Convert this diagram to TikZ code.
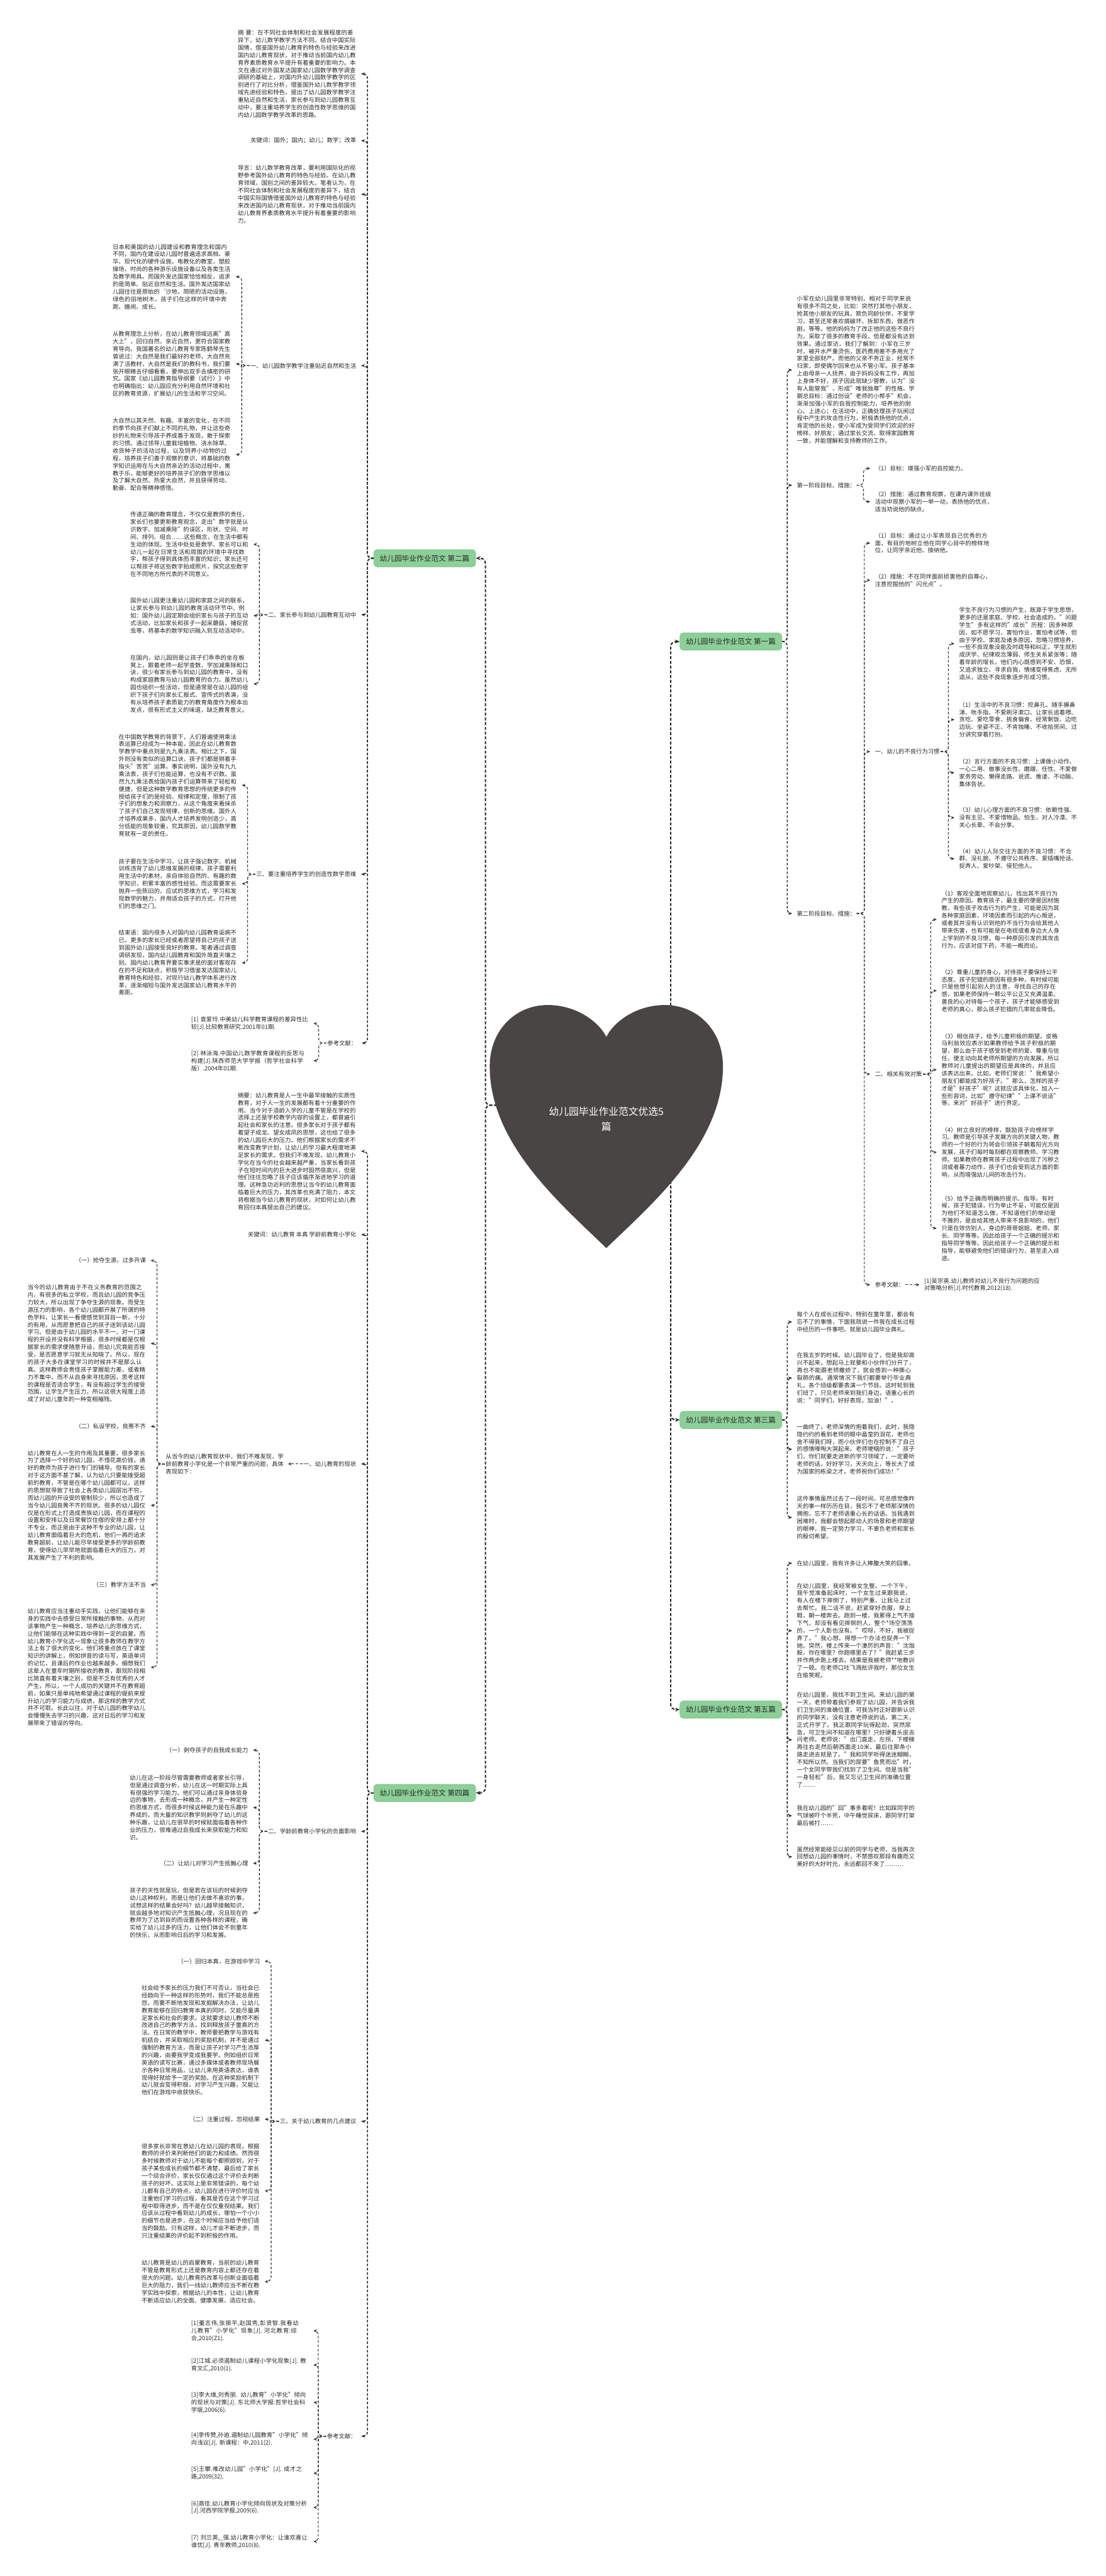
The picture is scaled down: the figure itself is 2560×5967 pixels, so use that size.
\documentclass[tikz,border=0pt]{standalone}
\usepackage{fontspec}
\setmainfont{Noto Sans CJK SC}
\usetikzlibrary{arrows.meta}
\XeTeXlinebreaklocale "zh"
\XeTeXlinebreakskip = 0pt plus 1pt
\definecolor{leafgreen}{RGB}{140,208,152}
\definecolor{leafline}{RGB}{118,188,132}
\definecolor{heartgray}{RGB}{74,69,69}
\definecolor{linkgray}{RGB}{45,45,45}
\definecolor{inkgray}{RGB}{40,40,40}

\begin{document}
\begin{tikzpicture}[x=1pt, y=-1pt]
      \tikzset{
	  stage/.style={rectangle, rounded corners=8pt, draw=leafline, fill=leafgreen, line width=1pt, inner xsep=14pt, minimum height=40pt, font=\fontsize{17}{20}\selectfont, text=inkgray},
	  txt/.style={text width=274pt, align=left, inner sep=2pt, font=\fontsize{13.6}{17.3}\selectfont, text=inkgray},
	  lbl/.style={inner sep=2pt, font=\fontsize{13.6}{17.3}\selectfont, text=inkgray},
	  heartlink/.style={draw=linkgray, line width=3pt, dash pattern=on 7pt off 4pt, rounded corners=12pt, -{Stealth[length=11pt,width=9pt]}},
	  toplink/.style={draw=linkgray, line width=2.2pt, dash pattern=on 6pt off 4pt, rounded corners=10pt, -{Stealth[length=9pt,width=7pt]}},
	  link/.style={draw=linkgray, line width=1.6pt, dash pattern=on 6pt off 4pt, rounded corners=10pt, -{Stealth[length=8pt,width=7pt]}}
      }
      \useasboundingbox (0,0) rectangle (2560,5967);
      \fill[white] (0,0) rectangle (2560,5967);

      \node[stage, anchor=west] (p2) at (865,1293) {幼儿园毕业作业范文 第二篇};
      \node[txt, anchor=east] (a2abs) at (827,171) {摘 要：在不同社会体制和社会发展程度的差异下，幼儿数学教学方法不同。结合中国实际国情，借鉴国外幼儿教育的特色与经验来改进国内幼儿教育现状，对于推动当前国内幼儿教育界素质教育水平提升有着重要的影响力。本文在通过对外国发达国家幼儿园数学教学调查调研的基础上，对国内外幼儿园数学教学的区别进行了对比分析，借鉴国外幼儿数学教学领域先进经验和特色，提出了幼儿园数学教学注重贴近自然和生活，家长参与到幼儿园教育互动中，要注重培养学生的创造性数学思维的国内幼儿园数学教学改革的思路。};
      \node[lbl, anchor=east] (a2key) at (827,326) {关键词：国外；国内；幼儿；数学；改革};
      \node[txt, anchor=east] (a2intro) at (827,450) {导言：幼儿数学教育改革，要利用国际化的视野参考国外幼儿教育的特色与经验。在幼儿教育领域，国别之间的差异较大。笔者认为，在不同社会体制和社会发展程度的差异下，结合中国实际国情借鉴国外幼儿教育的特色与经验来改进国内幼儿教育现状，对于推动当前国内幼儿教育界素质教育水平提升有着重要的影响力。};
      \node[lbl, anchor=east] (a2s1) at (827,847) {一、幼儿园数学教学注重贴近自然和生活};
      \node[txt, anchor=east] (a2s1a) at (537,641) {日本和美国的幼儿园建设和教育理念和国内不同，国内在建设幼儿园时普遍追求高档、豪华、现代化的硬件设施，电教化的教室，塑胶操场，时尚的各种游乐设施设备以及各类生活及教学用具。而国外发达国家恰恰相反，追求的是简单、贴近自然和生活。国外发达国家幼儿园往往是原始的`沙地，简陋的活动设施，绿色的田地树木，孩子们在这样的环境中奔跑、嬉闹、成长。};
      \node[txt, anchor=east] (a2s1b) at (537,843) {从教育理念上分析，在幼儿教育领域远离"高大上"，回归自然、亲近自然，更符合国家教育导向。我国著名的幼儿教育专家陈鹤琴先生曾说过：大自然是我们最好的老师，大自然充满了活教材，大自然是我们的教科书，我们要张开眼睛去仔细看看，要伸出双手去缜密的研究。国家《幼儿园教育指导纲要（试行）》中也明确指出：幼儿园应充分利用自然环境和社区的教育资源，扩展幼儿的生活和学习空间。};
      \node[txt, anchor=east] (a2s1c) at (537,1053) {大自然以其天然、有趣、丰富的变化，在不同的季节向孩子们献上不同的礼物，并让这些奇妙的礼物来引导孩子养成善于发现，敢于探索的习惯。通过领导儿童栽培植物、浇水除草、收货种子的活动过程，以及饲养小动物的过程，培养孩子们善于观察的意识，将基础的数学知识运用在与大自然亲近的活动过程中，寓教于乐，能够更好的培养孩子们的数学思维以及了解大自然、热爱大自然，并且获得劳动、勤奋、配合等精神感悟。};
      \node[lbl, anchor=east] (a2s2) at (827,1424) {二、家长参与到幼儿园教育互动中};
      \node[txt, anchor=east] (a2s2a) at (578,1261) {传递正确的教育理念，不仅仅是教师的责任，家长们也要更新教育观念，走出"数学就是认识数字、加减乘除"的误区，形状、空间、时间、排列、组合……这些概念，在生活中都有生动的体现。生活中处处是数学。家长可以和幼儿一起在日常生活和周围的环境中寻找数字，帮孩子得到具体而丰富的知识；家长还可以帮孩子将这些数字拍成照片，探究这些数字在不同地方所代表的不同意义。};
      \node[txt, anchor=east] (a2s2b) at (578,1426) {国外幼儿园更注重幼儿园和家庭之间的联系，让家长参与到幼儿园的教育活动环节中。例如：国外幼儿园定期会组织家长与孩子的互动式活动，比如家长和孩子一起采蘑菇，捕捉昆虫等，将基本的数学知识融入到互动活动中。};
      \node[txt, anchor=east] (a2s2c) at (578,1584) {在国内，幼儿园则是让孩子们乖乖的坐在板凳上，跟着老师一起学查数、学加减乘除和口诀，很少有家长参与到幼儿园的教育中，没有构成家庭教育与幼儿园教育的合力。虽然幼儿园也组织一些活动，但是通常是在幼儿园的组织下孩子们向家长汇报式、宣传式的表演，没有从培养孩子素质能力的教育角度作为根本出发点，很有形式主义的味道，缺乏教育意义。};
      \node[lbl, anchor=east] (a2s3) at (827,2025) {三、要注重培养学生的创造性数学思维};
      \node[txt, anchor=east] (a2s3a) at (551,1819) {在中国数学教育的背景下，人们普遍使用乘法表运算已经成为一种本能，因此在幼儿教育数学教学中重点则是九九乘法表。相比之下，国外则没有类似的运算口诀，孩子们都是掰着手指头"苦苦"运算。事实说明，国外没有九九乘法表，孩子们也能运算，也没有不识数。虽然九九乘法表给国内孩子们运算带来了轻松和便捷，但是这种数学教育思想的传统更多的传授给孩子们的是经验、规律和定理，限制了孩子们的想象力和洞察力，从这个角度来看抹杀了孩子们自己发现规律、创新的思维。国外人才培养成果多，国内人才培养发明创造少，高分低能的现象较重，究其原因，幼儿园数学教育就有一定的责任。};
      \node[txt, anchor=east] (a2s3b) at (551,2047) {孩子要在生活中学习，让孩子强记数字、机械训练违背了幼儿思维发展的规律。孩子需要利用生活中的素材，亲自体验自然的、有趣的数学知识，积累丰富的感性经验。而这需要家长抛弃一些陈旧的、应试的思维方式，学习和发现数学的魅力，并用适合孩子的方式，打开他们的思维之门。};
      \node[txt, anchor=east] (a2s3c) at (551,2230) {结束语：国内很多人对国内幼儿园教育诟病不已，更多的家长已经或者愿望将自己的孩子送到国外幼儿园接受良好的教育。笔者通过调查调研发现，国内幼儿园教育和国外简直天壤之别。国内幼儿教育界要实事求是的面对客观存在的不足和缺点，积极学习借鉴发达国家幼儿教育特色和经验，对现行幼儿教学体系进行改革，逐渐缩短与国外发达国家幼儿教育水平的差距。};
      \node[lbl, anchor=west] (a2ref) at (756,2416) {参考文献：};
      \node[txt, text width=272pt, anchor=east] (a2r1) at (717,2371) {[1] 袁爱玲.中美幼儿科学教育课程的差异性比较[J].比较教育研究.2001年01期.};
      \node[txt, text width=272pt, anchor=east] (a2r2) at (717,2457) {[2] 林泳海.中国幼儿数学教育课程的反思与构建[J].陕西师范大学学报（哲学社会科学版）.2004年01期.};

      \node[stage, anchor=west] (p4) at (865,4153) {幼儿园毕业作业范文 第四篇};
      \node[txt, anchor=east] (a4abs) at (827,2667) {摘要：幼儿教育是人一生中最早接触的实质性教育，对于人一生的发展都有着十分重要的作用。当今对于适龄入学的儿童不管是在学校的选择上还是学校教学内容的设置上，都普遍引起社会和家长的注意。很多家长对于孩子都有着望子成龙、望女成凤的思想，这也给了很多的幼儿园巨大的压力。他们根据家长的需求不断改变教学计划，让幼儿的学习最大程度地满足家长的需求。但我们不难发现，幼儿教育小学化在当今的社会越来越严重，当家长看到孩子在短时间内的巨大进步时固然很高兴，但是他们往往忽略了孩子应该循序渐进地学习的道理。这种急功近利的思想让当今的幼儿教育面临着巨大的压力，其改革也充满了阻力，本文将根据当今幼儿教育的现状，对如何让幼儿教育回归本真提出自己的建议。};
      \node[lbl, anchor=east] (a4key) at (827,2860) {关键词：幼儿教育 本真 学龄前教育小学化};
      \node[lbl, anchor=east] (a4s1) at (827,3391) {一、幼儿教育的现状};
      \node[txt, anchor=east] (a4s1x) at (660,3391) {从当今的幼儿教育现状中，我们不难发现，学龄前教育小学化是一个非常严重的问题，具体表现如下：};
      \node[lbl, anchor=east] (a4s1xa) at (340,2920) {（一）抢夺生源，过多开课};
      \node[txt, anchor=east] (a4s1xb) at (340,3112) {当今的幼儿教育由于不在义务教育的范围之内，有很多的私立学校，而且幼儿园的竞争压力较大，所以出现了争夺生源的现象。而受生源压力的影响，各个幼儿园都开展了所谓的特色学科，让家长一看便感觉到耳目一新，十分的有用，从而愿意把自己的孩子送到该幼儿园学习。但是由于幼儿园的水平不一，对一门课程的开设并没有科学根据，很多时候都是仅根据家长的需求便随意开设，而幼儿究竟能否接受，是否愿意学习就无从知晓了。所以，现在的孩子大多在课堂学习的时候并不是那么认真。这样教师会责怪孩子掌握能力差，或者精力不集中，而不从自身来寻找原因，思考这样的课程是否适合学生，有没有超过学生的接受范围，让学生产生压力，所以这很大程度上造成了对幼儿童年的一种变相摧残。};
      \node[lbl, anchor=east] (a4s1xc) at (340,3304) {（二）私设学校，良莠不齐};
      \node[txt, anchor=east] (a4s1xd) at (340,3487) {幼儿教育在人一生的作用及其重要，很多家长为了选择一个好的幼儿园，不惜花高价钱，请好的教师为孩子进行专门的辅导。但有的家长对于这方面不甚了解，认为幼儿只要能接受超前的教育，不管是在哪个幼儿园都可以，这样的思想就导致了社会上各类幼儿园层出不穷，而幼儿园的开设受的管制较少，所以也造成了当今幼儿园良莠不齐的现状。很多的幼儿园仅仅是在形式上打造成贵族幼儿园，而在课程的设置和安排以及日常餐饮住宿的安排上都十分不专业，而正是由于这种不专业的幼儿园，让幼儿教育面临着巨大的危机，他们一再的追求教育超前，让幼儿能尽早接受更多的学龄前教育，使得幼儿早早地就面临着巨大的压力，对其发展产生了不利的影响。};
      \node[lbl, anchor=east] (a4s1xe) at (340,3671) {（三）教学方法不当};
      \node[txt, anchor=east] (a4s1xf) at (340,3862) {幼儿教育应当注重动手实践，让他们能够在亲身的实践中去感受日常所接触的事物，从而对该事物产生一种概念，培养幼儿的思维方式，让他们能够在这种实践中得到一定的启蒙。而幼儿教育小学化这一现象让很多教师在教学方法上有了很大的变化，他们将重点放在了课堂知识的讲解上，例如拼音的读与写，英语单词的记忆，且课后的作业也越来越多。细想我们这辈人在童年时期所接收的教育，跟现阶段相比简直有着天壤之别，但是不乏有优秀的人才产生，所以，一个人成功的关键并不在教育超前，如果只是单纯地希望通过课程的提前来提升幼儿的学习能力与成绩，那这样的教学方式并不可取。长此以往，对于幼儿园的教学幼儿会慢慢失去学习的兴趣，这对日后的学习和发展带来了错误的导向。};
      \node[lbl, anchor=east] (a4s2) at (827,4242) {二、学龄前教育小学化的负面影响};
      \node[lbl, anchor=east] (a4s2a) at (577,4054) {（一）剥夺孩子的自我成长能力};
      \node[txt, anchor=east] (a4s2b) at (577,4187) {幼儿在这一阶段尽管需要教师或者家长引导，但是通过调查分析，幼儿在这一时期实际上具有很强的学习能力。他们可以通过亲身体验身边的事物，去形成一种概念，并产生一种定性的思维方式，而很多时候这种能力是在乐趣中养成的。而大量的知识教学则剥夺了幼儿的这种乐趣，让幼儿在很早的时候就面临着各种作业的压力，很难通过自我成长来获取能力和知识。};
      \node[lbl, anchor=east] (a4s2c) at (577,4316) {（二）让幼儿对学习产生抵触心理};
      \node[txt, anchor=east] (a4s2d) at (577,4431) {孩子的天性就是玩，但是若在该玩的时候剥夺幼儿这种权利，而是让他们去做不喜欢的事，试想这样的结果会好吗？幼儿越早接触知识，就会越多地对知识产生抵触心理，况且现在的教师为了达到目的而设置各种各样的课程，确实给了幼儿过多的压力，让他们体会不到童年的快乐，从而影响日后的学习和发展。};
      \node[lbl, anchor=east] (a4s3) at (827,4914) {三、关于幼儿教育的几点建议};
      \node[lbl, anchor=east] (a4s3a) at (604,4543) {（一）回归本真，在游戏中学习};
      \node[txt, anchor=east] (a4s3b) at (604,4726) {社会给予家长的压力我们不可否认，当社会已经趋向于一种这样的形势时，我们不能总是抱怨，而要不断地发现和发掘解决办法，让幼儿教育能够在回归教育本真的同时，又能尽量满足家长和社会的要求。这就要求幼儿教师不断改进自己的教学方法，找到释放孩子童真的方法。在日常的教学中，教师要把教学与游戏有机结合，并采取相应的奖励机制，并不是通过强制的教育方法，而是让孩子对学习产生浓厚的兴趣，由要我学变成我要学。例如组织日常英语的读写比赛，通过多媒体或者教师现场展示各种日常用品，让幼儿来用英语表达，谁表现得好就给予一定的奖励。在这种奖励机制下幼儿就会变得积极，对学习产生兴趣，又能让他们在游戏中收获快乐。};
      \node[lbl, anchor=east] (a4s3c) at (604,4909) {（二）注重过程，忽视结果};
      \node[txt, anchor=east] (a4s3d) at (604,5075) {很多家长非常在意幼儿在幼儿园的表现，根据教师的评价来判断他们的能力和成绩。然而很多时候教师对于幼儿不能每个都照顾到，对于孩子某些成长的细节都不清楚，最后给了家长一个综合评价，家长仅仅通过这个评价去判断孩子的好坏。这实际上是非常错误的，每个幼儿都有自己的特点，幼儿园在进行评价时应当注重他们学习的过程，看其是否在这个学习过程中取得进步，而不是在仅仅重视结果。我们应该从过程中看到幼儿的成长，哪怕一个小小的细节也是进步，在这个时候应当给予他们适当的鼓励。只有这样，幼儿才会不断进步，而只注重结果的评价起不到积极的作用。};
      \node[txt, anchor=east] (a4s3e) at (604,5285) {幼儿教育是幼儿的启蒙教育，当前的幼儿教育不管是教育形式上还是教育内容上都还存在着很大的问题。幼儿教育的改革与创新业面临着巨大的阻力，我们一线幼儿教师应当不断在教学实践中探索，根据幼儿的本性，让幼儿教育不断适应幼儿的全面、健康发展，适应社会。};
      \node[lbl, anchor=west] (a4ref) at (755,5643) {参考文献：};
      \node[txt, text width=272pt, anchor=east] (a4r1) at (717,5399) {[1]董志伟,张振平,赵国秀,彭贤智.我看幼儿教育"小学化"现象[J]. 河北教育:综合,2010(Z1).};
      \node[txt, text width=272pt, anchor=east] (a4r2) at (717,5478) {[2]江城.必须遏制幼儿课程小学化现象[J]. 教育文汇,2010(1).};
      \node[txt, text width=272pt, anchor=east] (a4r3) at (717,5565) {[3]李大维,刘秀丽. 幼儿教育"小学化"倾向的现状与对策[J]. 东北师大学报:哲学社会科学版,2006(6).};
      \node[txt, text width=272pt, anchor=east] (a4r4) at (717,5650) {[4]李传赞,孙逾.遏制幼儿园教育"小学化"倾向浅议[J]. 新课程：中,2011(2).};
      \node[txt, text width=272pt, anchor=east] (a4r5) at (717,5729) {[5]王攀.难改幼儿园"小学化"[J]. 成才之路,2009(32).};
      \node[txt, text width=272pt, anchor=east] (a4r6) at (717,5808) {[6]高佳.幼儿教育小学化倾向现状及对策分析[J].河西学院学报,2009(6).};
      \node[txt, text width=272pt, anchor=east] (a4r7) at (717,5887) {[7] 刘兰英,\_强.幼儿教育小学化：让谁欢喜让谁忧[J]. 青年教师,2010(8).};

      \node[stage, anchor=west] (p1) at (1574,1486) {幼儿园毕业作业范文 第一篇};
      \node[txt, anchor=west] (b1a) at (1843,857) {小军在幼儿园里非常特别，相对于同学来说有很多不同之处，比如：突然打其他小朋友，抢其他小朋友的玩具，欺负同龄伙伴，不爱学习，甚至还常喜欢搞破坏、拆卸东西，做恶作剧，等等。他的妈妈为了改正他的这些不良行为，采取了很多的教育手段，但是都没有达到效果。通过家访，我们了解到：小军在三岁时，被开水严重烫伤，医药费用差不多用光了家里全部财产。而他的父亲不务正业，经常不归家，即使偶尔回来也从不管小军。孩子基本上由母亲一人抚养，由于妈妈没有工作，再加上身体不好，孩子因此就缺少管教，认为"没有人能管我"，形成"唯我独尊"的性格。学期总目标：通过创设"老师的小帮手"机会，渐渐加强小军的自我控制能力，培养他的耐心、上进心；在活动中，正确处理孩子玩闹过程中产生的攻击性行为，积极表扬他的优点，肯定他的长处，使小军成为受同学们欢迎的好榜样、好朋友；通过家长交流、取得家园教育一致，并能理解和支持教师的工作。};
      \node[lbl, anchor=west] (b1s1) at (1843,1124) {第一阶段目标、措施：};
      \node[lbl, anchor=west] (b1s1a) at (2024,1085) {（1）目标：增强小军的自控能力。};
      \node[txt, anchor=west] (b1s1b) at (2024,1162) {（2）措施：通过教育观察，在课内课外班级活动中观察小军的一举一动，表扬他的优点，适当劝说他的缺点。};
      \node[lbl, anchor=west] (b1s2) at (1843,2116) {第二阶段目标、措施：};
      \node[txt, anchor=west] (b1s2a) at (2024,1258) {（1）目标：通过让小军表现自己优秀的方面，有目的地树立他在同学心目中的榜样地位，让同学亲近他、接纳他。};
      \node[txt, anchor=west] (b1s2b) at (2024,1344) {（2）措施：不在同伴面前损害他的自尊心，注意挖掘他的"闪光点"。};
      \node[lbl, anchor=west] (b1s2c) at (2024,1741) {一、幼儿的不良行为习惯};
      \node[txt, anchor=west] (b1c1) at (2219,1491) {学生不良行为习惯的产生，既源于学生思想，更多的还是家庭、学校、社会造成的。"问题学生"多有这样的"成长"历程：因多种原因，如不愿学习、害怕作业、害怕考试等，但由于学校、家庭及诸多原因，忽略习惯培养，一些不良现象没能及时疏导和纠正，学生就形成厌学、纪律观念薄弱、师生关系紧张等；随着年龄的增长，他们内心既感到不安、恐惧，又追求独立、寻求自我，情绪变得焦虑、无所适从，这些不良现象逐步形成习惯。};
      \node[txt, anchor=west] (b1c2) at (2219,1667) {（1）生活中的不良习惯：挖鼻孔、随手擤鼻涕、吮手指、不爱刷牙漱口、让家长追着喂、贪吃、爱吃零食、挑食偏食、经常剩饭、边吃边玩、坐姿不正、不肯独睡、不收拾房间、过分讲究穿着打扮。};
      \node[txt, anchor=west] (b1c3) at (2219,1790) {（2）言行方面的不良习惯：上课做小动作、一心二用、做事没长性、磨蹭、任性、不爱做家务劳动、懒得走路、说谎、推诿、不动脑、集体告状。};
      \node[txt, anchor=west] (b1c4) at (2219,1894) {（3）幼儿心理方面的不良习惯：依赖性强、没有主见、不爱惜物品、怕生、对人冷漠、不关心长辈、不会分享。};
      \node[txt, anchor=west] (b1c5) at (2219,1989) {（4）幼儿人际交往方面的不良习惯：不合群、没礼貌、不遵守公共秩序、爱插嘴抢话、捉弄人、爱吵架、侵犯他人。};
      \node[lbl, anchor=west] (b1s2d) at (2024,2488) {二、相关有效对策};
      \node[txt, anchor=west] (b1d1) at (2178,2130) {（1）客观全面地观察幼儿，找出其不良行为产生的原因。教育孩子，最主要的便是因材施教，有些孩子攻击行为的产生，可能是因为其各种家庭因素、环境因素而引起的内心叛逆，或者其并没有认识到他的不当行为会给其他人带来伤害，也有可能是在电视或者身边大人身上学到的不良习惯，每一种原因引发的其攻击行为，应该对症下药，不能一概而论。};
      \node[txt, anchor=west] (b1d2) at (2178,2295) {（2）尊重儿童的身心，对待孩子要保持公平态度。孩子犯错的原因有很多种，有时候可能只是他想引起别人的注意，寻找自己的存在感，如果老师保持一颗公平公正又充满温柔、善良的心对待每一个孩子，孩子才能够感受到老师的真心，那么孩子犯错的几率就会降低。};
      \node[txt, anchor=west] (b1d3) at (2178,2478) {（3）相信孩子，给予儿童积极的期望。皮格马利翁效应表示如果教师给予孩子积极的期望，那么由于孩子感受到老师的爱、尊重与信任，便主动向其老师所期望的方向发展。所以教师对儿童提出的期望应是具体的，并且应该表达出来。比如，老师们常说："我希望小朋友们都能成为好孩子。"那么，怎样的孩子才是"好孩子"呢？这就应该具体化，加入一些形容词，比如"遵守纪律""上课不说话"等，来对"好孩子"进行界定。};
      \node[txt, anchor=west] (b1d4) at (2178,2669) {（4）树立良好的榜样，鼓励孩子向榜样学习。教师是引导孩子发展方向的关键人物，教师的一个好的行为将会引领孩子朝着阳光方向发展，孩子们每时每刻都在观察教师、学习教师。如果教师在教育孩子过程中出现了污秽之词或者暴力动作，孩子们也会受到这方面的影响，从而增强幼儿间的攻击行为。};
      \node[txt, anchor=west] (b1d5) at (2178,2845) {（5）给予正确而明确的提示、指导。有时候，孩子犯错误，行为举止不妥，可能仅是因为他们不知道怎么做，不知道他们的举动是不雅的，是会给其他人带来不良影响的，他们只是在效仿别人，身边的哥哥姐姐、老师、家长、同学等等。因此给孩子一个正确的提示和指导同学等等。因此给孩子一个正确的提示和指导，能够避免他们的错误行为，甚至走入歧途。};
      \node[lbl, anchor=west] (b1s2e) at (2024,2976) {参考文献：};
      \node[txt, text width=270pt, anchor=west] (b1e1) at (2138,2976) {[1]吴宗英.幼儿教师对幼儿不良行为问题的应对策略分析[J].时代教育,2012(18).};

      \node[stage, anchor=west] (p3) at (1574,3289) {幼儿园毕业作业范文 第三篇};
      \node[txt, anchor=west] (c1) at (1843,3062) {每个人在成长过程中，特别在童年里，都会有忘不了的事情，下面我就说一件我在成长过程中经历的一件事吧。就是幼儿园毕业典礼。};
      \node[txt, anchor=west] (c2) at (1843,3192) {在我五岁的时候。幼儿园毕业了，但是我却高兴不起来，想起马上就要和小伙伴们分开了，再也不能跟老师撒娇了，就会感到一种撕心裂肺的痛。通常情况下我们都要举行毕业典礼，各个班级都要表演一个节目。这时轮到我们班了，只见老师来到我们身边，语重心长的说："同学们，好好表现，加油！"，};
      \node[txt, anchor=west] (c3) at (1843,3357) {一曲终了，老师深情的抱着我们，此时，我隐隐约约的看到老师的眼中晶莹的泪花，老师也舍不得我们呀，而小伙伴们也在控制不了自己的感情嚎啕大哭起来。老师哽咽的说："孩子们，你们就要走进新的学习领域了，一定要听老师的话，好好学习，天天向上，等长大了成为国家的栋梁之才。老师祝你们成功！"};
      \node[txt, anchor=west] (c4) at (1843,3515) {这件事情虽然过去了一段时间，可总感觉像昨天的事一样历历在目，我忘不了老师那深情的拥抱，忘不了老师语重心长的话语。当我遇到困难时，我都会想起那动人的场景和老师期望的眼神，我一定努力学习，不辜负老师和家长的殷切希望。};

      \node[stage, anchor=west] (p5) at (1574,3960) {幼儿园毕业作业范文 第五篇};
      \node[lbl, anchor=west] (e1) at (1843,3621) {在幼儿园里，我有许多让人捧腹大笑的囧事。};
      \node[txt, anchor=west] (e2) at (1843,3777) {在幼儿园里，我经常被女生整。一个下午，我午觉准备起床时，一个女生过来跟我说，有人在楼下摔倒了，特别严重，让我马上过去帮忙。我二话不说，赶紧穿好衣服，穿上鞋，朝一楼奔去。跑到一楼，我累得上气不接下气，却没有看见摔倒的人，整个*场空荡荡的，一个人影也没有。"哎呀，不好，我被捉弄了。"我心想。得想一个办法也捉弄一下她。突然，楼上传来一个凄厉的声音："沈珈毅，你在哪里？你跑哪里去了？"我赶紧三步并作两步跑上楼去。结果是我被老师**地教训了一顿。在老师口吐飞溅批评我时，那位女生在偷笑呢。};
      \node[txt, anchor=west] (e3) at (1843,4030) {在幼儿园里，我找不到卫生间。来幼儿园的第一天，老师带着我们参观了幼儿园，并告诉我们卫生间的准确位置，可我当时正好跟新认识的同学聊天，没有注意老师说的话。第二天，正式开学了。我正跟同学玩得起劲，突然尿急，可卫生间不知道在哪里？只好硬着头皮去问老师。老师说："出门直走，左拐，下楼梯再往右走然后朝西面走10米，最后往那条小路走进去就是了。"我和同学听得迷迷糊糊，不知所以然。当我们的尿要"鱼贯而出"时，一个女同学带我们找到了卫生间。但是当我"一身轻松"后，我又忘记卫生间的准确位置了……};
      \node[txt, anchor=west] (e4) at (1843,4206) {我在幼儿园的"囧"事多着呢！比如踩同学的气球被吓个半死，中午睡觉尿床，跟同学打架最后被打……};
      \node[txt, anchor=west] (e5) at (1843,4301) {虽然经常能碰见以前的同学与老师，当我再次回想幼儿园的事情时，不禁感叹那段有趣而又美好的大好时光，永远都回不来了………};

      \foreach \c in {a2abs,a2key,a2intro,a2s1,a2s2,a2s3,a2ref}
        \draw[toplink] (p2.west) -- ++(-14,0) |- ([xshift=9pt]\c.east);
      \foreach \c in {a2s1a,a2s1b,a2s1c}
        \draw[link] (a2s1.west) -- ++(-18,0) |- ([xshift=9pt]\c.east);
      \foreach \c in {a2s2a,a2s2b,a2s2c}
        \draw[link] (a2s2.west) -- ++(-18,0) |- ([xshift=9pt]\c.east);
      \foreach \c in {a2s3a,a2s3b,a2s3c}
        \draw[link] (a2s3.west) -- ++(-18,0) |- ([xshift=9pt]\c.east);
      \foreach \c in {a2r1,a2r2}
        \draw[link] (a2ref.west) -- ++(-18,0) |- ([xshift=9pt]\c.east);

      \foreach \c in {a4abs,a4key,a4s1,a4s2,a4s3,a4ref}
        \draw[toplink] (p4.west) -- ++(-14,0) |- ([xshift=9pt]\c.east);
      \draw[link] (a4s1.west) -- ([xshift=7pt]a4s1x.east);
      \foreach \c in {a4s1xa,a4s1xb,a4s1xc,a4s1xd,a4s1xe,a4s1xf}
        \draw[link] (a4s1x.west) -- ++(-18,0) |- ([xshift=9pt]\c.east);
      \foreach \c in {a4s2a,a4s2b,a4s2c,a4s2d}
        \draw[link] (a4s2.west) -- ++(-18,0) |- ([xshift=9pt]\c.east);
      \foreach \c in {a4s3a,a4s3b,a4s3c,a4s3d,a4s3e}
        \draw[link] (a4s3.west) -- ++(-18,0) |- ([xshift=9pt]\c.east);
      \foreach \c in {a4r1,a4r2,a4r3,a4r4,a4r5,a4r6,a4r7}
        \draw[link] (a4ref.west) -- ++(-18,0) |- ([xshift=9pt]\c.east);

      \foreach \c in {b1a,b1s1,b1s2}
        \draw[toplink] (p1.east) -- ++(12,0) |- ([xshift=-9pt]\c.west);
      \foreach \c in {b1s1a,b1s1b}
        \draw[link] (b1s1.east) -- ++(16,0) |- ([xshift=-9pt]\c.west);
      \foreach \c in {b1s2a,b1s2b,b1s2c,b1s2d,b1s2e}
        \draw[link] (b1s2.east) -- ++(18,0) |- ([xshift=-9pt]\c.west);
      \foreach \c in {b1c1,b1c2,b1c3,b1c4,b1c5}
        \draw[link] (b1s2c.east) -- ++(18,0) |- ([xshift=-9pt]\c.west);
      \foreach \c in {b1d1,b1d2,b1d3,b1d4,b1d5}
        \draw[link] (b1s2d.east) -- ++(18,0) |- ([xshift=-9pt]\c.west);
      \draw[link] (b1s2e.east) -- ([xshift=-9pt]b1e1.west);
      \foreach \c in {c1,c2,c3,c4}
        \draw[toplink] (p3.east) -- ++(12,0) |- ([xshift=-9pt]\c.west);
      \foreach \c in {e1,e2,e3,e4,e5}
        \draw[toplink] (p5.east) -- ++(12,0) |- ([xshift=-9pt]\c.west);

      \coordinate (hc) at (1404,2560);
      \foreach \p in {p2,p4}
        \draw[heartlink] (hc) -- (1124,2560) |- (\p.east);
      \foreach \p in {p1,p3,p5}
        \draw[heartlink] (hc) -- (1553,2560) |- (\p.west);

      \fill[heartgray] (1404,2891) .. controls (1300,2790) and (1134,2650) .. (1134,2470)
        .. controls (1134,2385) and (1195,2328) .. (1268,2328)
        .. controls (1340,2328) and (1390,2372) .. (1404,2402)
        .. controls (1418,2372) and (1468,2328) .. (1540,2328)
        .. controls (1613,2328) and (1674,2385) .. (1674,2470)
        .. controls (1674,2650) and (1508,2790) .. (1404,2891) -- cycle;
      \node[font=\fontsize{23}{34}\selectfont, text=white, align=center] (title) at (1404,2592) {幼儿园毕业作业范文优选5\\篇};
\end{tikzpicture}
\end{document}
